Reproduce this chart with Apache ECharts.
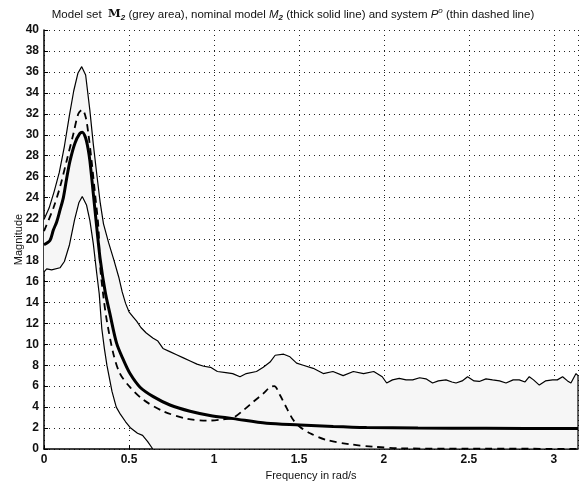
<!DOCTYPE html>
<html>
<head>
<meta charset="utf-8">
<script src="https://cdn.jsdelivr.net/npm/echarts@6/dist/echarts.min.js"></script>
<style>
  html, body { margin: 0; padding: 0; background: #fff; }
  #chart { width: 586px; height: 483px; }
</style>
</head>
<body>
<div id="chart"></div>
<script>
// upper bound of the model set (thin solid line)
var upperW = [0, 0.03, 0.06, 0.09, 0.12, 0.15, 0.175, 0.2, 0.222, 0.245, 0.27, 0.29, 0.31, 0.33, 0.35, 0.38, 0.41, 0.44, 0.46, 0.48, 0.5, 0.525, 0.545, 0.57, 0.6, 0.64, 0.67, 0.7, 0.74, 0.78, 0.82, 0.86, 0.9, 0.94, 0.98,
  1.02, 1.07, 1.11, 1.153, 1.19, 1.25, 1.29, 1.33, 1.36, 1.41, 1.447, 1.486, 1.525, 1.584, 1.643, 1.7, 1.76, 1.82, 1.88, 1.94, 1.99, 2.016, 2.05, 2.09, 2.13, 2.169, 2.21, 2.247, 2.286, 2.32, 2.365, 2.4, 2.424, 2.46, 2.492, 2.53, 2.561, 2.6, 2.639, 2.68, 2.718, 2.76, 2.796, 2.83, 2.855, 2.88, 2.914, 2.95, 2.992, 3.02, 3.051, 3.08, 3.1, 3.13, 3.1416];
var upperMag = [21.9, 23.0, 24.6, 26.4, 28.9, 31.9, 34.2, 35.9, 36.5, 35.7, 32.3, 29.1, 26.3, 23.6, 21.5, 19.7, 18.1, 16.4, 15.0, 13.9, 13.1, 12.6, 12.2, 11.6, 11.1, 10.6, 10.3, 9.6, 9.3, 9.0, 8.7, 8.4, 8.1, 7.9, 7.8,
  7.4, 7.3, 7.2, 6.9, 7.2, 7.4, 7.8, 8.3, 8.95, 9.05, 8.8, 8.2, 8.0, 7.7, 7.2, 7.4, 7.0, 7.4, 7.2, 7.4, 6.9, 6.3, 6.6, 6.75, 6.6, 6.6, 6.8, 6.7, 6.3, 6.5, 6.6, 6.4, 6.3, 6.5, 6.9, 6.5, 6.45, 6.7, 6.6, 6.5, 6.3, 6.6, 6.6, 6.4, 6.9, 6.6, 6.1, 6.5, 6.6, 6.6, 6.9, 6.5, 6.3, 7.2, 7.0];

// lower bound of the model set (thin solid line)
var lowerW = [0, 0.016, 0.045, 0.094, 0.12, 0.15, 0.18, 0.205, 0.225, 0.25, 0.27, 0.29, 0.31, 0.325, 0.34, 0.355, 0.37, 0.4, 0.425, 0.45, 0.48, 0.51, 0.55, 0.58, 0.61, 0.64, 3.1416];
var lowerMag = [16.9, 17.2, 17.1, 17.3, 17.9, 19.5, 21.9, 23.5, 24.1, 23.3, 21.8, 19.6, 16.8, 14.8, 11.5, 9.6, 8.0, 5.5, 4.0, 3.3, 2.6, 2.0, 1.5, 1.3, 0.7, 0, 0];

// nominal model M2 (thick solid line)
var nominalW = [0, 0.035, 0.055, 0.075, 0.094, 0.114, 0.133, 0.153, 0.182, 0.21, 0.225, 0.245, 0.26, 0.27, 0.29, 0.31, 0.33, 0.36, 0.388, 0.427, 0.467, 0.506, 0.565, 0.643, 0.741, 0.859, 0.976, 1.114, 1.31, 1.506, 1.702, 1.898, 2.2, 2.6, 3.1416];
var nominalMag = [19.5, 19.9, 20.9, 21.7, 22.8, 24.0, 25.8, 27.5, 29.2, 30.1, 30.25, 29.7, 28.6, 27.5, 24.4, 21.2, 18.2, 15.0, 12.9, 10.1, 8.5, 7.2, 5.9, 5.0, 4.2, 3.6, 3.2, 2.9, 2.45, 2.3, 2.15, 2.05, 2.0, 1.98, 1.95];

// system P0 (thin dashed line)
var systemW = [0, 0.055, 0.094, 0.133, 0.173, 0.202, 0.225, 0.245, 0.261, 0.28, 0.3, 0.32, 0.33, 0.35, 0.369, 0.408, 0.447, 0.506, 0.584, 0.702, 0.839, 0.957, 1.035, 1.114, 1.173, 1.231, 1.29, 1.33, 1.355, 1.388, 1.428, 1.467, 1.506, 1.565, 1.663, 1.8, 1.937, 2.094, 2.5, 3.1416];
var systemMag = [20.8, 23.0, 25.0, 27.5, 30.1, 32.0, 32.4, 31.7, 30.1, 27.5, 24.4, 21.2, 17.5, 14.5, 12.3, 9.1, 7.2, 5.9, 4.7, 3.6, 2.9, 2.7, 2.8, 3.0, 3.7, 4.5, 5.3, 5.9, 6.0, 5.15, 3.9, 2.76, 2.1, 1.5, 0.86, 0.45, 0.22, 0.07, 0.03, 0.02];

function pairs(w, m) {
    return w.map(function (x, i) { return [x, m[i]]; });
}

var upperData = pairs(upperW, upperMag);
var lowerData = pairs(lowerW, lowerMag);

var chart = echarts.init(document.getElementById('chart'));

var font = 'Liberation Sans, Arial, sans-serif';
var grid = { type: [1, 4], color: '#222', width: 1 };

chart.setOption({
    animation: false,
    backgroundColor: '#fff',
    title: {
        left: 'center',
        top: 2,
        text: '{n|Model set  }{b|M}{sub|2}{n| (grey area), nominal model }{i|M}{sub|2}{n| (thick solid line) and system }{i|P}{sup|o}{n| (thin dashed line)}',
        textStyle: {
            rich: {
                n: { fontFamily: font, fontSize: 11.5, fontWeight: 'normal', color: '#111' },
                b: { fontFamily: 'DejaVu Serif, serif', fontSize: 11.5, fontWeight: 'bold', color: '#111' },
                i: { fontFamily: font, fontSize: 11.5, fontWeight: 'normal', fontStyle: 'italic', color: '#111' },
                sub: { fontFamily: font, fontSize: 8, fontStyle: 'italic', fontWeight: 'bold', color: '#111', padding: [7, 0, 0, 0] },
                sup: { fontFamily: font, fontSize: 8, fontStyle: 'italic', fontWeight: 'normal', color: '#111', padding: [0, 0, 7, 0] }
            }
        }
    },
    grid: { left: 44, right: 8, top: 30, bottom: 34, outerBoundsMode: 'none' },
    xAxis: {
        type: 'value',
        min: 0,
        max: Math.PI,
        interval: 0.5,
        name: 'Frequency in rad/s',
        nameLocation: 'middle',
        nameGap: 20,
        nameTextStyle: { fontFamily: font, fontSize: 11, color: '#111' },
        axisLine: { lineStyle: { color: '#000', width: 1.5 } },
        axisTick: { inside: true, length: 4, lineStyle: { color: '#000' } },
        axisLabel: {
            fontFamily: font, fontSize: 12, fontWeight: 'bold', color: '#111', margin: 5,
            showMaxLabel: false,
            formatter: function (v) { return v > 3.1 ? '' : String(v); }
        },
        splitLine: { show: true, lineStyle: grid }
    },
    yAxis: {
        type: 'value',
        min: 0,
        max: 40,
        interval: 2,
        name: 'Magnitude',
        nameLocation: 'middle',
        nameGap: 20,
        nameMoveOverlap: false,
        nameTextStyle: { fontFamily: font, fontSize: 11, color: '#111' },
        axisLine: { show: true, lineStyle: { color: '#000', width: 1.5 } },
        axisTick: { show: true, inside: true, length: 4, lineStyle: { color: '#000' } },
        axisLabel: { fontFamily: font, fontSize: 12, fontWeight: 'bold', color: '#111', margin: 5 },
        splitLine: { show: true, lineStyle: grid }
    },
    series: [
        {
            // grey area between the bounds
            type: 'custom',
            silent: true,
            z: 1,
            data: [[0, 0]],
            renderItem: function (params, api) {
                var pts = upperData.map(function (p) { return api.coord(p); });
                lowerData.slice().reverse().forEach(function (p) { pts.push(api.coord(p)); });
                return { type: 'polygon', shape: { points: pts }, style: { fill: '#f6f6f6' } };
            }
        },
        {
            type: 'line', data: upperData.concat([[Math.PI, 0]]), showSymbol: false, z: 3,
            lineStyle: { color: '#000', width: 1.2 }
        },
        {
            type: 'line', data: lowerData, showSymbol: false, z: 3,
            lineStyle: { color: '#000', width: 1.2 }
        },
        {
            type: 'line', data: pairs(systemW, systemMag), showSymbol: false, smooth: 0.3, z: 4,
            lineStyle: { color: '#000', width: 1.8, type: [7, 5] }
        },
        {
            type: 'line', data: pairs(nominalW, nominalMag), showSymbol: false, smooth: 0.3, z: 5,
            lineStyle: { color: '#000', width: 3 }
        }
    ]
});
</script>
</body>
</html>
